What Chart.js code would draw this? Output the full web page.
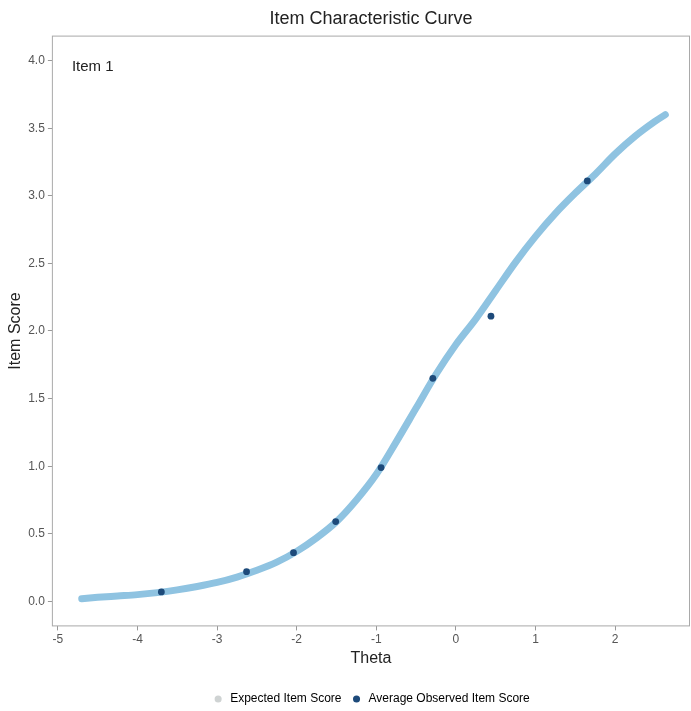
<!DOCTYPE html>
<html>
<head>
<meta charset="utf-8">
<script src="https://cdn.jsdelivr.net/npm/chart.js@4.4.1/dist/chart.umd.min.js"></script>
<style>
  html, body { margin: 0; padding: 0; background: #fff; }
  #wrap { width: 691px; height: 711px; }
</style>
</head>
<body>
<div id="wrap"><canvas id="icc"></canvas></div>
<script>
// expected item score curve
const thetaGrid = [-4.7, -4.5, -4.25, -4.0, -3.75, -3.5, -3.25, -3.0, -2.75, -2.5, -2.25, -2.0, -1.75, -1.5, -1.25,
  -1.0, -0.75, -0.5, -0.25, 0.0, 0.25, 0.5, 0.75, 1.0, 1.25, 1.5, 1.75, 2.0, 2.25, 2.5, 2.63];
const expectedScore = [0.02, 0.03, 0.04, 0.05, 0.065, 0.085, 0.11, 0.14, 0.18, 0.23, 0.29, 0.37, 0.47, 0.59, 0.75,
  0.94, 1.18, 1.43, 1.68, 1.90, 2.09, 2.30, 2.51, 2.70, 2.87, 3.02, 3.16, 3.31, 3.44, 3.55, 3.60];

// average observed item score
const observedTheta = [-3.70, -2.63, -2.04, -1.51, -0.94, -0.29, 0.44, 1.65];
const observedScore = [0.07, 0.22, 0.36, 0.59, 0.99, 1.65, 2.11, 3.11];

const xTicks = [-5, -4, -3, -2, -1, 0, 1, 2];
const yTicks = [0, 0.5, 1, 1.5, 2, 2.5, 3, 3.5, 4];

const curveColor = '#8fc3e1';
const pointColor = '#1d4a7a';
const expectedLegendColor = '#cfd3d3';
const font = 'Liberation Sans, Arial, sans-serif';

// full box around the panel + "Item 1" label
const panelPlugin = {
  id: 'panel',
  beforeDatasetsDraw(chart) {
    const { ctx, chartArea: a } = chart;
    ctx.save();
    ctx.strokeStyle = '#a9a9a9';
    ctx.lineWidth = 1;
    ctx.strokeRect(a.left + 0.5, a.top + 0.5, a.right - a.left - 1, a.bottom - a.top - 1);
    ctx.fillStyle = '#222';
    ctx.font = '15px ' + font;
    ctx.textBaseline = 'middle';
    ctx.fillText('Item 1', a.left + 20, a.top + 31);
    ctx.restore();
  }
};

new Chart(document.getElementById('icc').getContext('2d'), {
  data: {
    datasets: [{
      type: 'line',
      label: 'Expected Item Score',
      order: 2,
      data: thetaGrid.map((t, i) => ({ x: t, y: expectedScore[i] })),
      borderColor: curveColor,
      borderWidth: 7,
      borderCapStyle: 'round',
      cubicInterpolationMode: 'monotone',
      pointRadius: 0,
      fill: false
    }, {
      type: 'scatter',
      label: 'Average Observed Item Score',
      order: 1,
      data: observedTheta.map((t, i) => ({ x: t, y: observedScore[i] })),
      backgroundColor: pointColor,
      borderColor: pointColor,
      pointRadius: 3.4,
      borderWidth: 0
    }]
  },
  options: {
    responsive: true,
    maintainAspectRatio: false,
    animation: false,
    layout: { autoPadding: false, padding: { top: 8, right: 1, left: 6, bottom: -4 } },
    plugins: {
      title: {
        display: true,
        fullSize: false,
        text: 'Item Characteristic Curve',
        color: '#222',
        font: { family: font, size: 18, weight: 'normal' },
        padding: { top: 0, bottom: 6 }
      },
      legend: {
        position: 'bottom',
        fullSize: false,
        labels: {
          usePointStyle: true,
          boxWidth: 12,
          boxHeight: 5,
          padding: 9,
          color: '#333',
          font: { family: font, size: 12 },
          generateLabels: () => [
            { text: 'Expected Item Score', fillStyle: expectedLegendColor, strokeStyle: expectedLegendColor, lineWidth: 0, pointStyle: 'circle', datasetIndex: 0 },
            { text: 'Average Observed Item Score', fillStyle: pointColor, strokeStyle: pointColor, lineWidth: 0, pointStyle: 'circle', datasetIndex: 1 }
          ]
        }
      },
      tooltip: { enabled: false }
    },
    scales: {
      x: {
        type: 'linear',
        min: -5.075,
        max: 2.94,
        afterBuildTicks: s => { s.ticks = xTicks.map(v => ({ value: v })); },
        ticks: { color: '#555', font: { family: font, size: 12 }, padding: 2, callback: v => String(v) },
        grid: { drawOnChartArea: false, tickLength: 4, color: '#999' },
        border: { display: false },
        title: { display: true, text: 'Theta', color: '#222', font: { family: font, size: 16 }, padding: { top: 0, bottom: 16 } }
      },
      y: {
        type: 'linear',
        min: -0.185,
        max: 4.185,
        afterBuildTicks: s => { s.ticks = yTicks.map(v => ({ value: v })); },
        ticks: { color: '#555', font: { family: font, size: 12 }, padding: 3, callback: v => Number(v).toFixed(1) },
        grid: { drawOnChartArea: false, tickLength: 4, color: '#999' },
        border: { display: false },
        title: { display: true, text: 'Item Score', color: '#222', font: { family: font, size: 16 }, padding: { top: 0, bottom: 0 } }
      }
    }
  },
  plugins: [panelPlugin]
});
</script>
</body>
</html>
